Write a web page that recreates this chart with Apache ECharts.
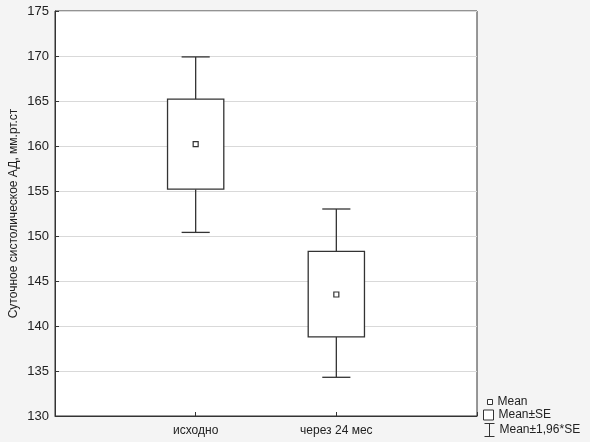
<!DOCTYPE html>
<html>
<head>
<meta charset="utf-8">
<script src="https://cdn.jsdelivr.net/npm/echarts@6/dist/echarts.min.js"></script>
<style>
  html, body { margin: 0; padding: 0; background: #f4f4f4; }
  #chart { width: 590px; height: 442px; }
</style>
</head>
<body>
<div id="chart"></div>
<script>
var categories = ['исходно', 'через 24 мес']
var meanValues = [160.2, 143.5]
var seLow = [155.2, 138.8]
var seHigh = [165.2, 148.3]
var ciLow = [150.4, 134.3]
var ciHigh = [169.9, 153.0]
var yTicks = { min: 130, max: 175, step: 5 }

var font = "'Liberation Sans', Arial, sans-serif"
var ink = '#333'

var myChart = echarts.init(document.getElementById('chart'))

var boxData = []
var whiskerData = []
var meanData = []
for (var i = 0; i < categories.length; i++) {
  boxData.push([i + 1, seLow[i], seHigh[i]])
  whiskerData.push([i + 1, ciLow[i], seLow[i], seHigh[i], ciHigh[i]])
  meanData.push([i + 1, meanValues[i]])
}

// прямоугольник Mean±SE
function renderBox (params, api) {
  var lo = api.coord([api.value(0), api.value(1)])
  var hi = api.coord([api.value(0), api.value(2)])
  var w = api.size([0.4, 0])[0]
  return {
    type: 'rect',
    shape: { x: lo[0] - w / 2, y: hi[1], width: w, height: lo[1] - hi[1] },
    style: { fill: '#fff', stroke: ink, lineWidth: 1.3 }
  }
}

// усы Mean±1,96*SE
function renderWhisker (params, api) {
  var x = api.value(0)
  var a = api.coord([x, api.value(1)])
  var b = api.coord([x, api.value(2)])
  var c = api.coord([x, api.value(3)])
  var d = api.coord([x, api.value(4)])
  var cap = api.size([0.2, 0])[0] / 2
  var st = { stroke: ink, lineWidth: 1.3 }
  return {
    type: 'group',
    children: [
      { type: 'line', shape: { x1: a[0], y1: a[1], x2: b[0], y2: b[1] }, style: st },
      { type: 'line', shape: { x1: c[0], y1: c[1], x2: d[0], y2: d[1] }, style: st },
      { type: 'line', shape: { x1: a[0] - cap, y1: a[1], x2: a[0] + cap, y2: a[1] }, style: st },
      { type: 'line', shape: { x1: d[0] - cap, y1: d[1], x2: d[0] + cap, y2: d[1] }, style: st }
    ]
  }
}

var legendText = { fontFamily: font, fontSize: 12, color: '#222' }

var option = {
  backgroundColor: '#f4f4f4',
  animation: false,
  grid: {
    left: 55, top: 11, right: 113, bottom: 26,
    outerBoundsMode: 'none',
    containLabel: false,
    show: true, backgroundColor: '#fff', borderColor: ink, borderWidth: 1
  },
  legend: [{
    data: [{ name: 'Mean', icon: 'rect' }],
    left: 487, top: 396, itemWidth: 5, itemHeight: 5, selectedMode: false,
    padding: 0, textStyle: legendText,
    itemStyle: { color: '#fff', borderColor: ink, borderWidth: 1 }
  }, {
    data: [{ name: 'Mean±SE', icon: 'rect' }],
    left: 483, top: 409, itemWidth: 10, itemHeight: 10, selectedMode: false,
    padding: 0, textStyle: legendText,
    itemStyle: { color: '#fff', borderColor: ink, borderWidth: 1 }
  }, {
    data: [{ name: 'Mean±1,96*SE', icon: 'path://M0,0L10,0M5,0L5,13M0,13L10,13' }],
    left: 482, top: 421, itemWidth: 10, itemHeight: 13, selectedMode: false,
    padding: 0, textStyle: legendText,
    itemStyle: { color: 'none', borderColor: ink, borderWidth: 1 }
  }],
  xAxis: {
    type: 'value',
    min: 0,
    max: categories.length + 1,
    interval: 1,
    splitLine: { show: false },
    axisLine: { show: true, lineStyle: { color: ink } },
    axisTick: { show: true, inside: true, length: 4, lineStyle: { color: ink } },
    axisLabel: {
      margin: 9, color: '#222', fontFamily: font, fontSize: 12,
      formatter: function (v) { return categories[v - 1] || '' }
    }
  },
  yAxis: {
    type: 'value',
    min: yTicks.min,
    max: yTicks.max,
    interval: yTicks.step,
    name: 'Суточное систолическое АД, мм.рт.ст',
    nameLocation: 'middle',
    nameGap: 35,
    nameMoveOverlap: false,
    nameTextStyle: { color: '#222', fontFamily: font, fontSize: 12 },
    axisLine: { show: true, lineStyle: { color: ink } },
    axisTick: { show: true, inside: true, length: 4, lineStyle: { color: ink } },
    axisLabel: { margin: 6, color: '#222', fontFamily: font, fontSize: 13 },
    splitLine: { show: true, lineStyle: { color: '#d9d9d9', width: 1 } }
  },
  series: [{
    name: 'Mean±1,96*SE',
    type: 'custom',
    renderItem: renderWhisker,
    encode: { x: 0, y: [1, 2, 3, 4] },
    data: whiskerData,
    z: 2
  }, {
    name: 'Mean±SE',
    type: 'custom',
    renderItem: renderBox,
    encode: { x: 0, y: [1, 2] },
    data: boxData,
    z: 3
  }, {
    name: 'Mean',
    type: 'scatter',
    symbol: 'rect',
    symbolSize: 5,
    itemStyle: { color: '#fff', borderColor: ink, borderWidth: 1.2, opacity: 1 },
    data: meanData,
    z: 4
  }]
}

myChart.setOption(option)
</script>
</body>
</html>
